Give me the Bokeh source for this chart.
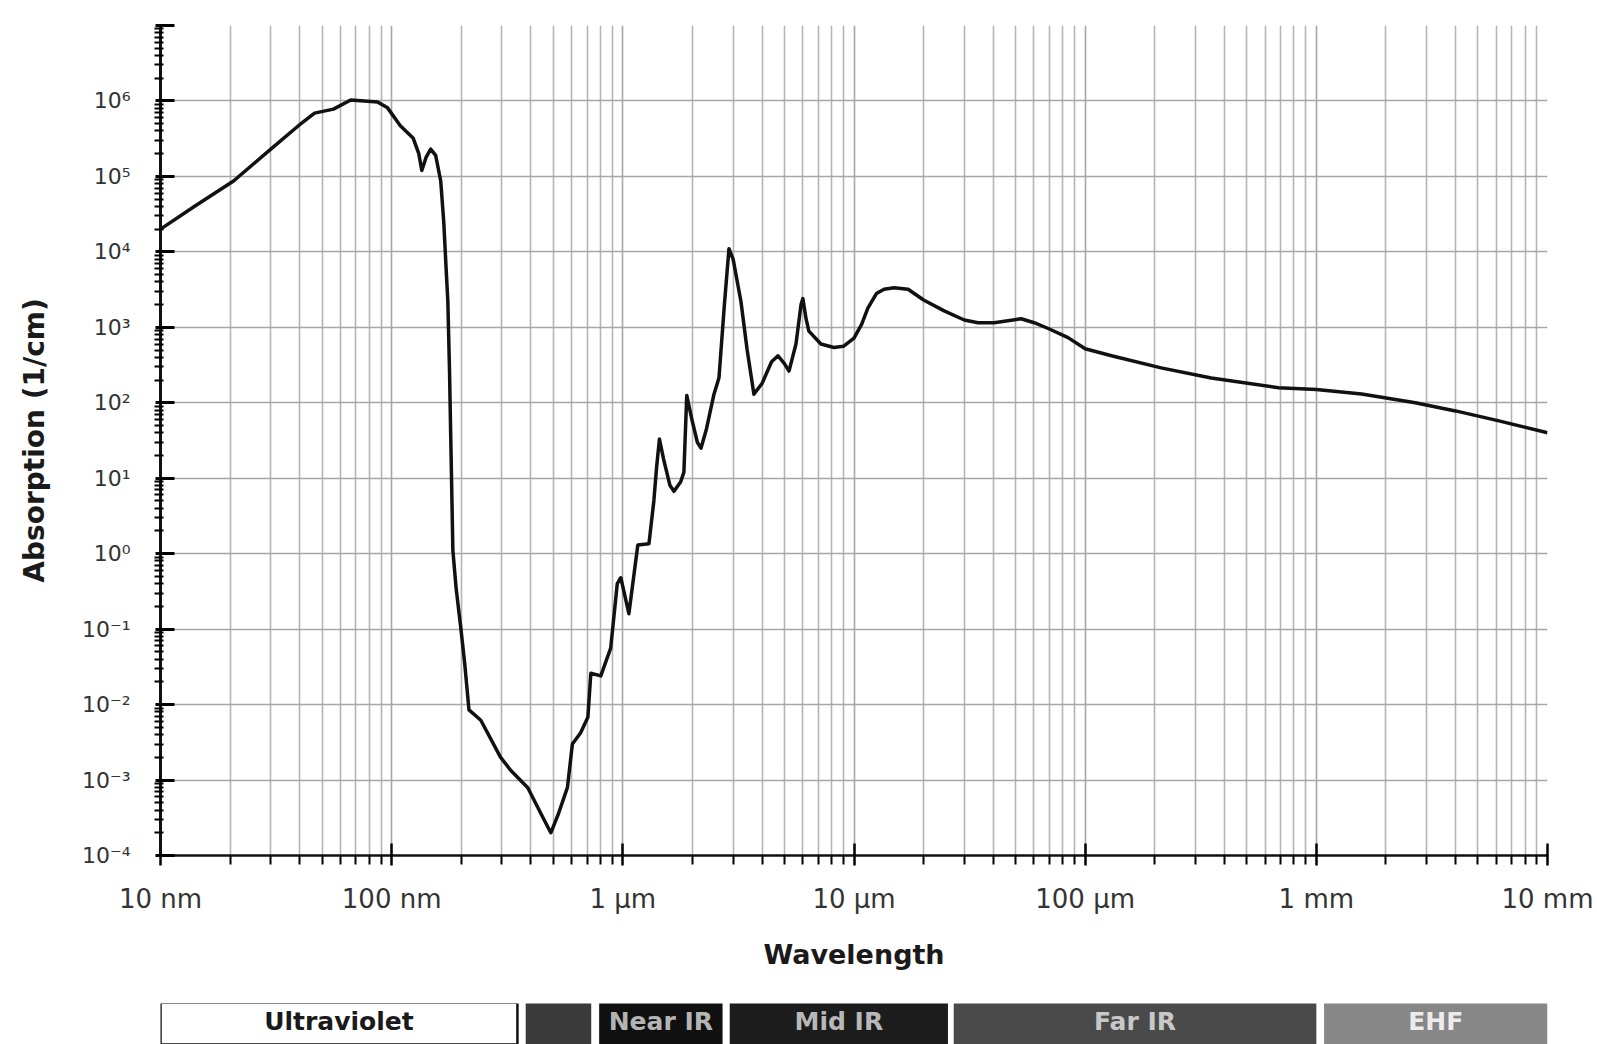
from bokeh.plotting import figure
from bokeh.models import FixedTicker, CustomJSTickFormatter, Range1d, ColumnDataSource
from bokeh.layouts import column
from bokeh.embed import file_html
from bokeh.resources import INLINE
from bokeh.core.properties import value

# ---- data ----
wavelength_nm = [10, 14, 20.7, 30, 40.8, 46.4, 56, 66.5, 76, 86.9, 96, 109, 124, 131, 135,
                 141, 147.5, 155, 163, 168, 172, 175, 178, 180, 184, 190, 199, 207, 216,
                 243, 296, 327, 388, 442, 488, 527, 576, 605, 656, 706, 727, 803, 886, 946,
                 980, 1062, 1161, 1297, 1362, 1400, 1440, 1500, 1600, 1664, 1780, 1837,
                 1890, 1990, 2100, 2178, 2300, 2479, 2606, 2750, 2878, 3000, 3243, 3450,
                 3690, 4000, 4400, 4690, 5000, 5234, 5610, 5900, 6010, 6200, 6380, 7190,
                 8190, 9000, 10000, 10800, 11480, 12500, 13500, 14900, 17140, 20000, 24550,
                 30000, 34400, 40400, 52800, 60200, 70000, 84300, 100000, 130000, 213000,
                 351000, 686000, 1.0e6, 1.57e6, 2.68e6, 4.0e6, 6.1e6, 1.0e7]
absorption_per_cm = [2.0e4, 4.0e4, 8.7e4, 2.3e5, 5.1e5, 6.9e5, 7.8e5, 1.03e6, 1.0e6, 9.7e5,
                     8.1e5, 4.7e5, 3.2e5, 2.0e5, 1.2e5, 1.8e5, 2.3e5, 1.9e5, 8.7e4, 2.5e4,
                     6.0e3, 2.2e3, 2.5e2, 39, 1.1, 0.35, 0.105, 0.035, 0.0085,
                     0.0062, 0.002, 0.00135, 0.00079, 0.00036, 0.0002, 0.00036, 0.0008,
                     0.003, 0.0042, 0.0068, 0.026, 0.024, 0.056, 0.4,
                     0.48, 0.16, 1.3, 1.35, 5, 14, 33, 18, 8, 6.7, 9, 12,
                     125, 60, 30, 25, 45, 130, 215, 2000, 1.1e4, 8000, 2200, 500,
                     130, 180, 350, 420, 330, 263, 600, 2000, 2400, 1300, 890, 600,
                     540, 560, 720, 1100, 1800, 2800, 3200, 3350, 3200, 2300, 1650,
                     1250, 1150, 1150, 1300, 1150, 950, 730, 520, 420, 290,
                     213, 158, 150, 131, 100, 78, 58, 40]

x_tick_values = [10, 100, 1e3, 1e4, 1e5, 1e6, 1e7]
x_tick_labels = ["10 nm", "100 nm", "1 µm", "10 µm", "100 µm", "1 mm", "10 mm"]
y_tick_values = [1e-4, 1e-3, 1e-2, 1e-1, 1e0, 1e1, 1e2, 1e3, 1e4, 1e5, 1e6, 1e7]
y_tick_labels = ["10⁻⁴", "10⁻³", "10⁻²", "10⁻¹", "10⁰", "10¹", "10²", "10³", "10⁴",
                 "10⁵", "10⁶", ""]

band_names = ["Ultraviolet", "", "Near IR", "Mid IR", "Far IR", "EHF"]
band_start_nm = [10, 380, 790, 2900, 27000, 1.08e6]
band_end_nm = [350, 730, 2700, 25500, 1.0e6, 1.0e7]

# ---- styles ----
band_fill = ["#ffffff", "#3a3a3a", "#101010", "#1c1c1c", "#4a4a4a", "#878787"]
band_line = ["#111111", None, None, None, None, None]
band_text_color = ["#1a1a1a", "#bbbbbb", "#b4b4b4", "#b8b8b8", "#c8c8c8", "#ececec"]
FONT = "DejaVu Sans"
W = 1597
LEFT = 160
RIGHT = 1547

minor_x = [k * 10 ** d for d in range(1, 7) for k in range(2, 10)]
minor_y = [k * 10.0 ** d for d in range(-4, 7) for k in range(2, 10)]

fmt_code = """
for (let i = 0; i < tvals.length; i++) {
  if (Math.abs(Math.log10(tvals[i]) - Math.log10(tick)) < 1e-6) return tlabels[i];
}
return "";
"""

x_range = Range1d(10, 1e7)
p = figure(width=W, height=990, x_axis_type="log", y_axis_type="log",
           x_range=x_range, y_range=Range1d(1e-4, 1e7),
           output_backend="svg", toolbar_location=None,
           min_border_left=LEFT, min_border_right=W - RIGHT, min_border_top=25,
           min_border_bottom=135)
p.outline_line_color = None
p.background_fill_color = "white"
p.border_fill_color = "white"

src = ColumnDataSource(dict(x=wavelength_nm, y=absorption_per_cm))
p.line("x", "y", source=src, line_color="#111111", line_width=3.5, line_join="round")

# x axis
xa = p.xaxis[0]
xa.ticker = FixedTicker(ticks=x_tick_values, minor_ticks=minor_x)
xa.formatter = CustomJSTickFormatter(args=dict(tvals=x_tick_values, tlabels=x_tick_labels), code=fmt_code)
xa.axis_label = "Wavelength"
xa.axis_label_text_font = FONT
xa.axis_label_text_font_style = "bold"
xa.axis_label_text_font_size = "27px"
xa.axis_label_text_color = "#1a1a1a"
xa.axis_label_standoff = 22
xa.major_label_text_font = FONT
xa.major_label_text_font_size = "26px"
xa.major_label_text_color = "#333333"
xa.major_label_standoff = 18
xa.axis_line_color = "#111111"
xa.axis_line_width = 2.5
xa.major_tick_in = 12
xa.major_tick_out = 10
xa.major_tick_line_width = 2.5
xa.minor_tick_in = 0
xa.minor_tick_out = 9
xa.minor_tick_line_width = 2

# y axis
ya = p.yaxis[0]
ya.ticker = FixedTicker(ticks=y_tick_values, minor_ticks=minor_y)
ya.formatter = CustomJSTickFormatter(args=dict(tvals=y_tick_values, tlabels=y_tick_labels), code=fmt_code)
ya.axis_label = "Absorption (1/cm)"
ya.axis_label_text_font = FONT
ya.axis_label_text_font_style = "bold"
ya.axis_label_text_font_size = "28px"
ya.axis_label_text_color = "#1a1a1a"
ya.axis_label_standoff = 28
ya.major_label_text_font = FONT
ya.major_label_text_font_size = "22px"
ya.major_label_text_color = "#333333"
ya.major_label_standoff = 24
ya.axis_line_color = "#111111"
ya.axis_line_width = 3
ya.major_tick_in = 14
ya.major_tick_out = 5
ya.major_tick_line_width = 3
ya.minor_tick_in = 3
ya.minor_tick_out = 6
ya.minor_tick_line_width = 2

# grids
p.xgrid.grid_line_color = "#a6a6a6"
p.xgrid.grid_line_width = 1.6
p.xgrid.minor_grid_line_color = "#b4b4b4"
p.xgrid.minor_grid_line_width = 1.6
p.ygrid.grid_line_color = "#a6a6a6"
p.ygrid.grid_line_width = 1.6
p.ygrid.minor_grid_line_color = None

# ---- spectral band strip ----
b = figure(width=W, height=54, x_axis_type="log", x_range=x_range, y_range=Range1d(0, 1),
           output_backend="svg", toolbar_location=None,
           x_axis_location=None, y_axis_location=None,
           min_border_left=LEFT, min_border_right=W - RIGHT, min_border_top=13,
           min_border_bottom=0)
b.outline_line_color = None
b.grid.visible = False
b.background_fill_color = "white"
b.border_fill_color = "white"

mid = [(s * e) ** 0.5 for s, e in zip(band_start_nm, band_end_nm)]
bsrc = ColumnDataSource(dict(left=band_start_nm, right=band_end_nm, name=band_names,
                             fill=band_fill, line=band_line, tcol=band_text_color, mid=mid,
                             bottom=[0] * len(band_names), top=[1.02] * len(band_names),
                             ty=[0.55] * len(band_names)))
b.quad(left="left", right="right", bottom="bottom", top="top", source=bsrc,
       fill_color="fill", line_color="line", line_width=2.5)
b.text(x="mid", y="ty", text="name", source=bsrc, text_color="tcol",
       text_font=value(FONT), text_font_style="bold", text_font_size="25px",
       text_align="center", text_baseline="middle")

layout = column(p, b, spacing=0)
open("out.html", "w").write(file_html(layout, INLINE))
